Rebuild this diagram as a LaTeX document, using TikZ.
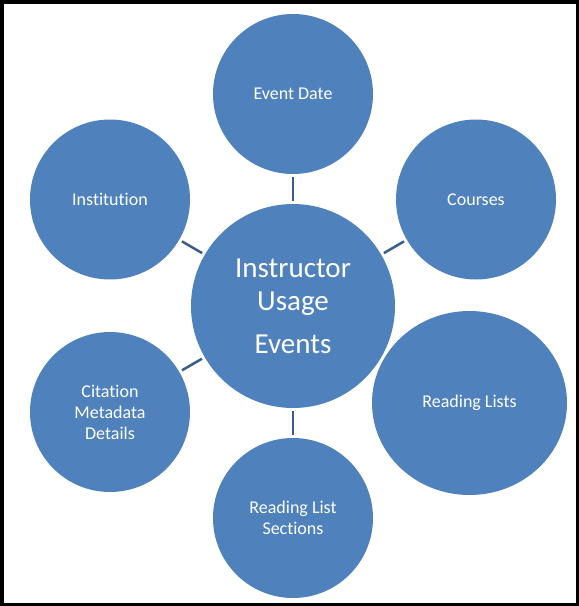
\documentclass[tikz,border=0pt]{standalone}
\usepackage{fontspec}
\setmainfont[Ligatures=NoCommon]{Carlito}
\usetikzlibrary{positioning,shapes.geometric}

\definecolor{bubble}{HTML}{4F81BD}
\definecolor{spoke}{HTML}{385D8A}

\begin{document}
\begin{tikzpicture}[x=1pt,y=-1pt,on grid,
    topic/.style={circle,fill=bubble,text=white,minimum size=160pt,inner sep=0pt,
        align=center,font=\fontsize{18}{21}\selectfont},
    hub/.style={topic,minimum size=204pt,font=\fontsize{29}{33}\selectfont},
    link/.style={draw=spoke,line width=2.5pt,shorten >=3pt,shorten <=3pt}]
    \useasboundingbox (0,0) rectangle (579,606);
    \draw[line width=3.5pt] (1.75,1.75) rectangle (577.25,604.25);
    \node[hub] (hub) at (293,306) {Instructor\\Usage\\[10pt]Events};
    \node[topic] (date) [above=212pt of hub] {Event Date};
    \node[topic] (courses) [above right=106.5pt and 183pt of hub] {Courses};
    \node[topic] (inst) [above left=106.5pt and 183pt of hub] {Institution};
    \node[topic] (cite) [below left=106pt and 183pt of hub] {Citation\\Metadata\\Details};
    \node[topic] (sections) [below=212pt of hub] {Reading List\\Sections};
    \node[topic,ellipse,minimum width=195pt,minimum height=184pt]
        (lists) [below right=97pt and 176.5pt of hub] {Reading Lists};
    \path[link] (hub) -- (date);
    \path[link] (hub) -- (courses);
    \path[link] (hub) -- (inst);
    \path[link] (hub) -- (cite);
    \path[link] (hub) -- (sections);
\end{tikzpicture}
\end{document}
